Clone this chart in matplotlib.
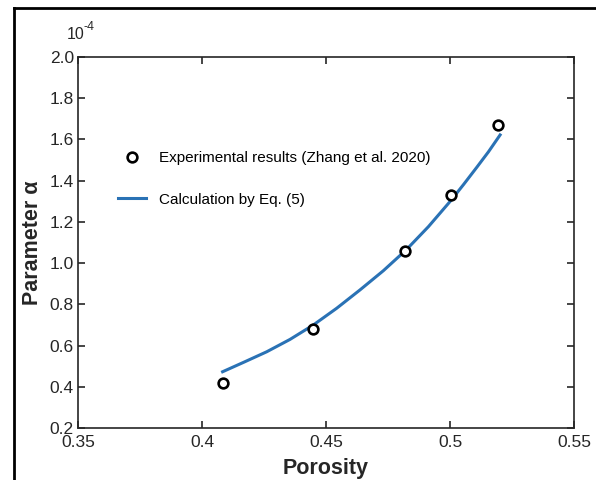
import matplotlib
matplotlib.use("Agg")
import matplotlib.pyplot as plt
from matplotlib.lines import Line2D

plt.rcParams['font.family'] = ['Liberation Sans', 'DejaVu Sans']

# experimental points (alpha in units of 1e-4)
exp_porosity = [0.4085, 0.4448, 0.4820, 0.5002, 0.5194]
exp_alpha = [0.42, 0.68, 1.06, 1.33, 1.67]

# curve from Eq. (5)
calc_porosity = [0.4083, 0.4170, 0.4261, 0.4355, 0.4449, 0.4543, 0.4637, 0.4731,
                 0.4823, 0.4913, 0.5003, 0.5055, 0.5108, 0.5155, 0.5202]
calc_alpha = [0.473, 0.520, 0.570, 0.630, 0.700, 0.781, 0.870, 0.963,
              1.064, 1.177, 1.303, 1.382, 1.465, 1.540, 1.622]

xticks = [0.35, 0.40, 0.45, 0.50, 0.55]
xtick_labels = ['0.35', '0.4', '0.45', '0.5', '0.55']
yticks = [0.2, 0.4, 0.6, 0.8, 1.0, 1.2, 1.4, 1.6, 1.8, 2.0]

axcol = '#262626'
blue = '#2a72b5'

fig = plt.figure(figsize=(5.96, 4.8), dpi=100)
ax = fig.add_axes([0.1309, 0.1083, 0.8322, 0.7729])

line, = ax.plot(calc_porosity, calc_alpha, '-', color=blue, lw=2.2)
pts, = ax.plot(exp_porosity, exp_alpha, 'o', ls='none', mfc='white',
               mec='black', ms=7, mew=1.9)

ax.set_xlim(0.35, 0.55)
ax.set_ylim(0.2, 2.0)
ax.set_xticks(xticks)
ax.set_xticklabels(xtick_labels)
ax.set_yticks(yticks)
ax.set_yticklabels([f'{v:.1f}' for v in yticks])

for s in ax.spines.values():
    s.set_color(axcol)
    s.set_linewidth(1.2)
ax.tick_params(direction='in', length=5, width=1.2, color=axcol,
               labelcolor=axcol, labelsize=12.5, top=True, right=True)
ax.tick_params(axis='y', pad=3)
ax.tick_params(axis='x', pad=5)

ax.set_xlabel('Porosity', fontsize=15.5, fontweight='bold', color=axcol, labelpad=6)
ax.set_ylabel('Parameter α', fontsize=15.5, fontweight='bold', color=axcol, labelpad=5)

# exponent label, MATLAB style
fig.text(67 / 596, 1 - 39 / 480, '10', fontsize=11.5, color=axcol,
         ha='left', va='baseline')
fig.text(83 / 596, 1 - 30 / 480, '-4', fontsize=9, color=axcol,
         ha='left', va='baseline')

ax.legend([pts, line],
          ['Experimental results (Zhang et al. 2020)', 'Calculation by Eq. (5)'],
          loc='upper left', bbox_to_anchor=(0.08, 0.746), frameon=False,
          fontsize=11, handlelength=1.85, handletextpad=0.85, labelspacing=1.8,
          borderpad=0, borderaxespad=0)

# figure frame (left and top edges, as in the cropped original)
fig.add_artist(Line2D([13.5 / 596, 13.5 / 596], [0, 1 - 8 / 480],
                      transform=fig.transFigure, color='black', lw=2))
fig.add_artist(Line2D([13.5 / 596, 1], [1 - 8 / 480, 1 - 8 / 480],
                      transform=fig.transFigure, color='black', lw=2))

fig.savefig('out.png', dpi=100)
